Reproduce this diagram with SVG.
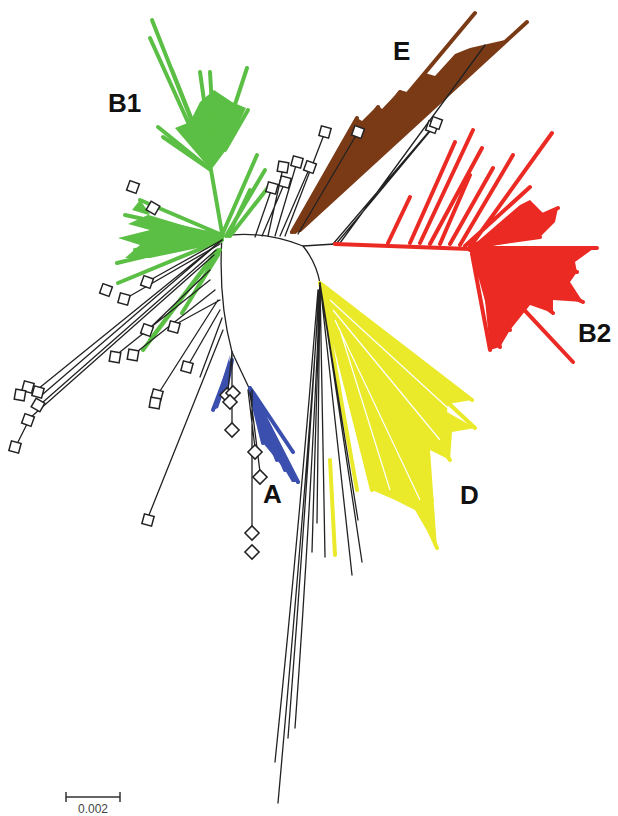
<svg xmlns="http://www.w3.org/2000/svg" xmlns:xlink="http://www.w3.org/1999/xlink" width="618" height="816" viewBox="0 0 618 816">
<style>
.k{stroke:#222;stroke-width:1.3;fill:none;stroke-linecap:round}
.g{stroke:#5cbf45;stroke-width:4;fill:none;stroke-linecap:round}
.gf{fill:#5cbf45}
.b{stroke:#7a3a16;stroke-width:4;fill:none;stroke-linecap:round}
.bf{fill:#7a3a16}
.r{stroke:#ec2a24;stroke-width:4;fill:none;stroke-linecap:round}
.rf{fill:#ec2a24}
.y{stroke:#eaea2a;stroke-width:4;fill:none;stroke-linecap:round}
.yf{fill:#eaea2a}
.u{stroke:#3a4fae;stroke-width:4;fill:none;stroke-linecap:round}
.uf{fill:#3a4fae}
.lab{font-family:"Liberation Sans",Arial,sans-serif;font-weight:bold;font-size:26px;fill:#111}
.sq{fill:#fff;stroke:#222;stroke-width:1.5}
</style>
<defs><rect id="sq" class="sq" x="-5" y="-5" width="10" height="10"/></defs>
<rect width="618" height="816" fill="#fff"/>

<g id="backbone">
<path class="k" d="M222,236 Q262,230 303,246 L335,244"/>
<path class="k" d="M303,246 Q316,262 320,283"/>
<path class="k" d="M222,236 Q218,300 232,352"/>
<path class="k" d="M232,352 L250,390"/>
</g>

<g id="B1">
<path class="g" d="M222,233 L211,170"/>
<path class="gf" d="M211,170 L175,128 L190,122 L200,102 L214,90 L232,102 L246,108 L226,150 Z"/>
<path class="g" d="M211,170 L152,20 M205,160 L150,38 M200,140 L172,70 M211,150 L200,72 M214,140 L210,72 M220,150 L247,68 M225,150 L248,110 M211,170 L158,127 M211,170 L163,137 M208,160 L185,135"/>
<path class="gf" d="M222,237 L132,210 L140,200 L150,214 L128,224 L150,230 L118,238 L140,245 L125,258 L150,258 L222,243 Z"/>
<path class="g" d="M222,235 L140,200 M222,236 L125,215 M222,238 L117,263 M222,240 L118,283 M222,237 L135,250"/>
<path class="g" d="M222,235 L257,155 M226,236 L265,170 M230,236 L270,185 M228,236 L250,190"/>
<path class="g" d="M218,250 L143,350 M216,252 L150,340 M218,255 L182,313 M220,250 L190,300"/>
</g>

<g id="E">
<path class="bf" d="M290,234 L352,125 L357,118 L362,121 L378,105 L382,109 L400,90 L407,92 L425,73 L435,76 L455,54 L470,48 L505,40 L300,232 Z"/>
<path class="b" d="M292,232 L475,13 M300,230 L527,22 M292,232 L357,118 M295,232 L378,107 M300,225 L400,92"/>
</g>

<g id="blackUpper">
<path class="k" d="M255,237 L272,188 M262,236 L285,182 M268,236 L283,168 M275,236 L297,162 M280,236 L310,167 M285,236 L325,132 M298,234 L358,132"/>
<path class="k" d="M340,243 L485,45 M336,244 L436,124 M333,244 L432,128"/>
</g>

<g id="B2">
<path class="r" d="M335,244 L470,249"/>
<path class="r" d="M388,243 L410,197 M410,243 L455,142 M420,243 L473,130 M430,244 L482,148 M440,244 L470,175 M450,244 L493,168 M460,245 L513,155 M465,246 L530,187 M470,247 L552,133 M470,247 L558,208 M470,247 L540,237"/>
<path class="rf" d="M470,248 L520,205 L530,200 L545,215 L558,208 L555,222 L540,237 L470,250 Z"/>
<path class="rf" d="M470,248 L597,246 L575,262 L577,272 L570,282 L583,302 L553,300 L553,313 L530,305 L510,330 L500,347 L490,350 L485,300 L480,268 Z"/>
<path class="r" d="M470,248 L597,248 M470,250 L577,272 M470,250 L583,302 M472,252 L553,313 M472,254 L573,362 M472,254 L490,350 M474,254 L500,347 M474,254 L510,330"/>
</g>

<g id="D">
<path class="yf" d="M320,283 L472,400 L448,404 L447,412 L475,428 L452,432 L450,460 L430,450 L437,548 L415,510 L395,500 L372,490 L360,440 L340,360 L322,292 Z"/>
<path class="y" d="M320,283 L472,400 M320,283 L475,428 M320,283 L450,460 M320,283 L437,548 M320,283 L432,500 M320,283 L372,490 M322,292 L357,490 M330,460 L335,555"/>
<path stroke="#fff" stroke-width="1.2" fill="none" d="M330,300 L450,410 M335,320 L420,500 M340,330 L390,490 M333,310 L440,440"/>
</g>

<g id="blackLower">
<path class="k" d="M320,283 L312,552 M320,283 L325,557 M320,283 L352,575 M320,283 L362,562 M320,283 L358,520 M320,283 L317,523"/>
<path class="k" d="M320,283 Q305,500 278,803 M318,290 Q300,520 275,762 M319,290 Q305,520 288,738 M320,292 Q310,520 295,728"/>
</g>

<g id="A">
<path class="uf" d="M230,355 L213,410 L218,408 L226,385 Z"/>
<path class="u" d="M232,360 L213,410 M232,360 L225,395"/>
<path class="uf" d="M250,388 L298,482 L292,482 L285,470 L277,460 L263,443 L255,410 Z"/>
<path class="u" d="M250,388 L298,482 M250,388 L293,452 M250,390 L277,460 M250,390 L263,443 M252,392 L285,470"/>
<path class="k" d="M232,352 L228,390 M232,355 L232,425 M252,390 L252,528 M248,390 L255,448 M250,392 L260,472"/>
</g>

<g id="leftLines">
<path class="k" d="M222,240 L38,389 M222,240 L43,394 M216,250 L42,403 M214,255 L30,418 M28,422 L18,442"/>
<path class="k" d="M222,240 L152,279 M220,244 L130,296 M210,270 L152,326 M210,280 L120,352 M215,290 L138,351 M220,300 L178,323 M218,300 L160,391 M220,310 L190,362 M222,318 L200,377 M223,330 L149,515"/>
</g>

<g id="squares">
<use xlink:href="#sq" transform="translate(133,187) rotate(20)"/>
<use xlink:href="#sq" transform="translate(153,208) rotate(30)"/>
<use xlink:href="#sq" transform="translate(272,188) rotate(15)"/>
<use xlink:href="#sq" transform="translate(285,182) rotate(15)"/>
<use xlink:href="#sq" transform="translate(283,167) rotate(10)"/>
<use xlink:href="#sq" transform="translate(297,162) rotate(15)"/>
<use xlink:href="#sq" transform="translate(310,167) rotate(20)"/>
<use xlink:href="#sq" transform="translate(325,132) rotate(15)"/>
<use xlink:href="#sq" transform="translate(358,132) rotate(20)"/>
<use xlink:href="#sq" transform="translate(432,127) rotate(20)"/>
<use xlink:href="#sq" transform="translate(436,123) rotate(20)"/>
<use xlink:href="#sq" transform="translate(106,290) rotate(20)"/>
<use xlink:href="#sq" transform="translate(124,299) rotate(15)"/>
<use xlink:href="#sq" transform="translate(147,282) rotate(20)"/>
<use xlink:href="#sq" transform="translate(147,330) rotate(20)"/>
<use xlink:href="#sq" transform="translate(174,327) rotate(15)"/>
<use xlink:href="#sq" transform="translate(115,357) rotate(10)"/>
<use xlink:href="#sq" transform="translate(133,355) rotate(10)"/>
<use xlink:href="#sq" transform="translate(187,367) rotate(15)"/>
<use xlink:href="#sq" transform="translate(157,395) rotate(15)"/>
<use xlink:href="#sq" transform="translate(155,403) rotate(10)"/>
<use xlink:href="#sq" transform="translate(28,387) rotate(15)"/>
<use xlink:href="#sq" transform="translate(20,395) rotate(10)"/>
<use xlink:href="#sq" transform="translate(38,392) rotate(15)"/>
<use xlink:href="#sq" transform="translate(38,405) rotate(30)"/>
<use xlink:href="#sq" transform="translate(28,420) rotate(20)"/>
<use xlink:href="#sq" transform="translate(15,447) rotate(15)"/>
<use xlink:href="#sq" transform="translate(148,520) rotate(15)"/>
<use xlink:href="#sq" transform="translate(227,395) rotate(45)"/>
<use xlink:href="#sq" transform="translate(233,393) rotate(45)"/>
<use xlink:href="#sq" transform="translate(230,402) rotate(45)"/>
<use xlink:href="#sq" transform="translate(232,430) rotate(45)"/>
<use xlink:href="#sq" transform="translate(255,452) rotate(45)"/>
<use xlink:href="#sq" transform="translate(260,477) rotate(45)"/>
<use xlink:href="#sq" transform="translate(252,533) rotate(45)"/>
<use xlink:href="#sq" transform="translate(252,552) rotate(45)"/>
</g>

<g id="labels">
<text class="lab" x="108" y="112">B1</text>
<text class="lab" x="393" y="60">E</text>
<text class="lab" x="578" y="342">B2</text>
<text class="lab" x="460" y="504">D</text>
<text class="lab" x="263" y="503">A</text>
</g>

<g id="scale">
<path stroke="#333" stroke-width="1.5" fill="none" d="M66,797 L120,797 M66,792 L66,802 M120,792 L120,802"/>
<text x="93" y="813" font-family="Liberation Sans, Arial, sans-serif" font-size="12" fill="#444" text-anchor="middle">0.002</text>
</g>
</svg>
